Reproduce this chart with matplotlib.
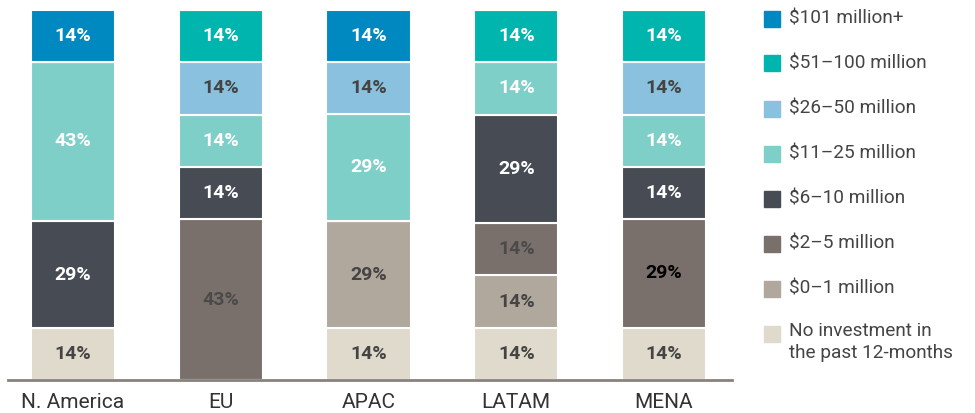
import numpy as np
import matplotlib.pyplot as plt
from matplotlib.patches import Rectangle

plt.rcParams['font.family'] = ['Roboto', 'DejaVu Sans']

regions = ['N. America', 'EU', 'APAC', 'LATAM', 'MENA']
# stacking order bottom -> top
categories = ['No investment in\nthe past 12-months', '$0\u20131 million', '$2\u20135 million',
              '$6\u201310 million', '$11\u201325 million', '$26\u201350 million',
              '$51\u2013100 million', '$101 million+']
no_invest = [14, 0, 14, 14, 14]
m0_1 = [0, 0, 29, 14, 0]
m2_5 = [0, 43, 0, 14, 29]
m6_10 = [29, 14, 0, 29, 14]
m11_25 = [43, 14, 29, 14, 14]
m26_50 = [0, 14, 14, 0, 14]
m51_100 = [0, 14, 0, 14, 14]
m101 = [14, 0, 14, 0, 0]
series = [no_invest, m0_1, m2_5, m6_10, m11_25, m26_50, m51_100, m101]

colors = ['#dfdacb', '#b0a79d', '#7a706b', '#474b54', '#7fcfc9', '#8ac1de', '#00b5ad', '#0089c0']
text_colors = ['#444444', '#444444', '#4a4a4a', 'white', 'white', '#444444', 'white', 'white']

fig = plt.figure(figsize=(9.75, 4.13), dpi=100)
ax = fig.add_axes([8 / 975, 33 / 413, 724 / 975, 370 / 413])

x = np.arange(len(regions))
totals = np.sum(np.array(series, dtype=float), axis=0)  # rounded shares, scale each column to 100
bottom = np.zeros(len(regions))
for i, vals in enumerate(series):
    vals = np.array(vals, dtype=float)
    h = vals / totals * 100
    ax.bar(x, h, 0.57, bottom=bottom, color=colors[i], edgecolor='white', linewidth=1.5)
    for j, v in enumerate(vals):
        if v > 0:
            tc = text_colors[i]
            if i == 2 and regions[j] == 'MENA':
                tc = 'black'
            ax.text(x[j], bottom[j] + h[j] / 2, f'{int(v)}%', ha='center', va='center',
                    fontsize=14, fontweight='bold', color=tc)
    bottom += h

ax.set_xlim(-0.44, 4.46)
ax.set_ylim(0, 100)
ax.set_xticks(x)
ax.set_xticklabels(regions, fontsize=15, color='#333333')
ax.tick_params(axis='x', length=0, pad=9)
ax.set_yticks([])
for s in ['top', 'left', 'right']:
    ax.spines[s].set_visible(False)
ax.spines['bottom'].set_color('#8a817c')
ax.spines['bottom'].set_linewidth(2)

# legend, top to bottom
for k in range(len(categories)):
    idx = len(categories) - 1 - k
    yc = 1 - (18.5 + 45 * k) / 413
    fig.add_artist(Rectangle((764 / 975, yc - 8 / 413), 16 / 975, 16 / 413,
                             transform=fig.transFigure, color=colors[idx]))
    two = '\n' in categories[idx]
    fig.text(789 / 975, yc + (12 / 413 if two else 0), categories[idx],
             ha='left', va='top' if two else 'center',
             fontsize=13.7, color='#444444', linespacing=1.3)

fig.savefig('out.png', dpi=100)
